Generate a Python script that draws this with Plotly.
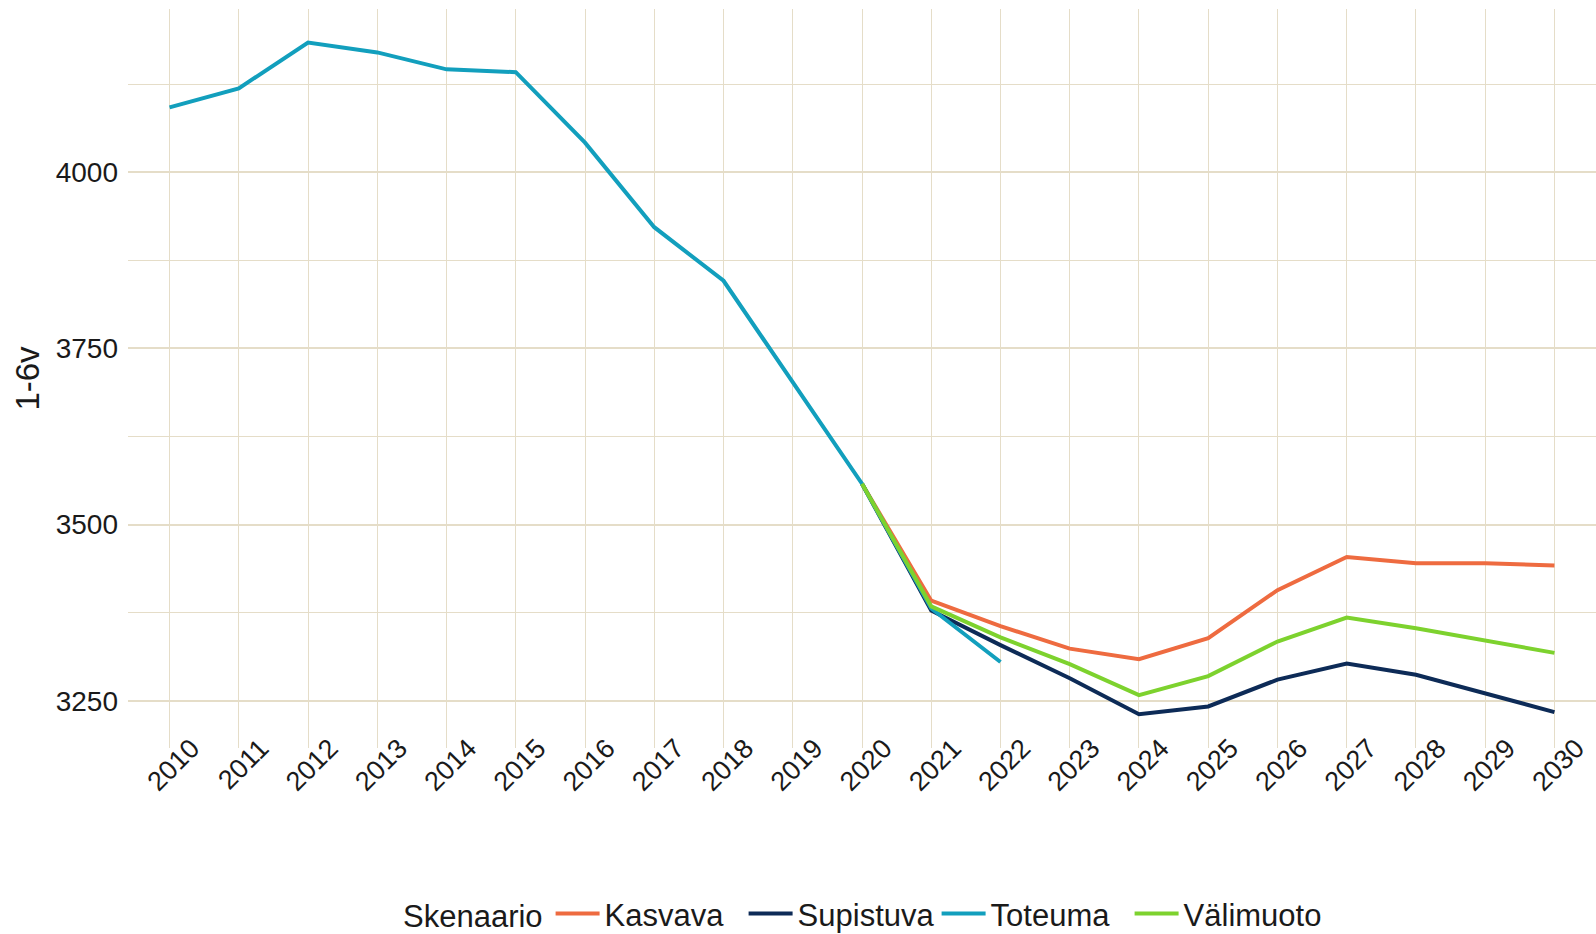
import plotly.graph_objects as go

years_toteuma = [2010, 2011, 2012, 2013, 2014, 2015, 2016, 2017, 2018, 2019, 2020, 2021, 2022]
toteuma = [4092, 4119, 4184, 4170, 4146, 4142, 4042, 3922, 3846, 3702, 3558, 3381, 3305]

years_scen = [2020, 2021, 2022, 2023, 2024, 2025, 2026, 2027, 2028, 2029, 2030]
kasvava = [3558, 3392, 3356, 3324, 3309, 3339, 3407, 3454, 3445, 3445, 3442]
supistuva = [3558, 3378, 3329, 3282, 3231, 3242, 3280, 3303, 3287, 3260, 3234]
valimuoto = [3558, 3384, 3340, 3302, 3258, 3285, 3334, 3368, 3353, 3336, 3318]

x_ticks = list(range(2010, 2031))
y_ticks = [3250, 3500, 3750, 4000]

colors = {
    "Kasvava": "#EE6B40",
    "Supistuva": "#0D2B57",
    "Toteuma": "#129FBD",
    "Välimuoto": "#7DD22E",
}

FONT = "Liberation Sans, Arial, sans-serif"
TXT = "#1a1a1a"

fig = go.Figure()
series = [
    ("Kasvava", years_scen, kasvava),
    ("Supistuva", years_scen, supistuva),
    ("Toteuma", years_toteuma, toteuma),
    ("Välimuoto", years_scen, valimuoto),
]
for name, xs, ys in series:
    fig.add_trace(go.Scatter(
        x=xs, y=ys, mode="lines", name=name,
        line=dict(color=colors[name], width=4),
    ))

grid = "#E5DDC8"
fig.update_layout(
    width=1596, height=934,
    paper_bgcolor="white", plot_bgcolor="white",
    margin=dict(l=128, r=0, t=9, b=186, autoexpand=False),
    font=dict(family=FONT, color=TXT),
    showlegend=True,
    legend=dict(
        orientation="h", x=0.5, xanchor="center", y=-0.1878, yanchor="top",
        title=dict(text="Skenaario", side="left", font=dict(size=31, family=FONT, color=TXT)),
        font=dict(size=31, family=FONT, color=TXT),
        itemwidth=44, tracegroupgap=0,
        entrywidth=134, entrywidthmode="pixels",
    ),
)
fig.update_xaxes(
    range=[2009.4, 2030.6], automargin=False,
    tickvals=x_ticks, ticktext=[str(v) for v in x_ticks],
    tickangle=-45, tickfont=dict(size=27, family=FONT, color=TXT),
    ticklabelshift=22, ticklabelstandoff=-22,
    showgrid=True, gridcolor=grid, gridwidth=1.2,
    zeroline=False, showline=False, ticks="",
)
fig.update_yaxes(
    range=[3183, 4231.6], automargin=False,
    tickvals=y_ticks, ticktext=[str(v) for v in y_ticks],
    tickfont=dict(size=28, family=FONT, color=TXT),
    showgrid=True, gridcolor=grid, gridwidth=2.4,
    minor=dict(dtick=125, tick0=3125, showgrid=True, gridcolor=grid, gridwidth=1.2),
    zeroline=False, showline=False, ticks="",
    ticklabelstandoff=9,
    title=dict(text="1-6v", font=dict(size=33, family=FONT, color=TXT), standoff=6),
)

fig.write_html(
    "out.html",
    config={"displayModeBar": False},
    post_script="document.body.style.margin='0';document.body.style.overflow='hidden';",
)
